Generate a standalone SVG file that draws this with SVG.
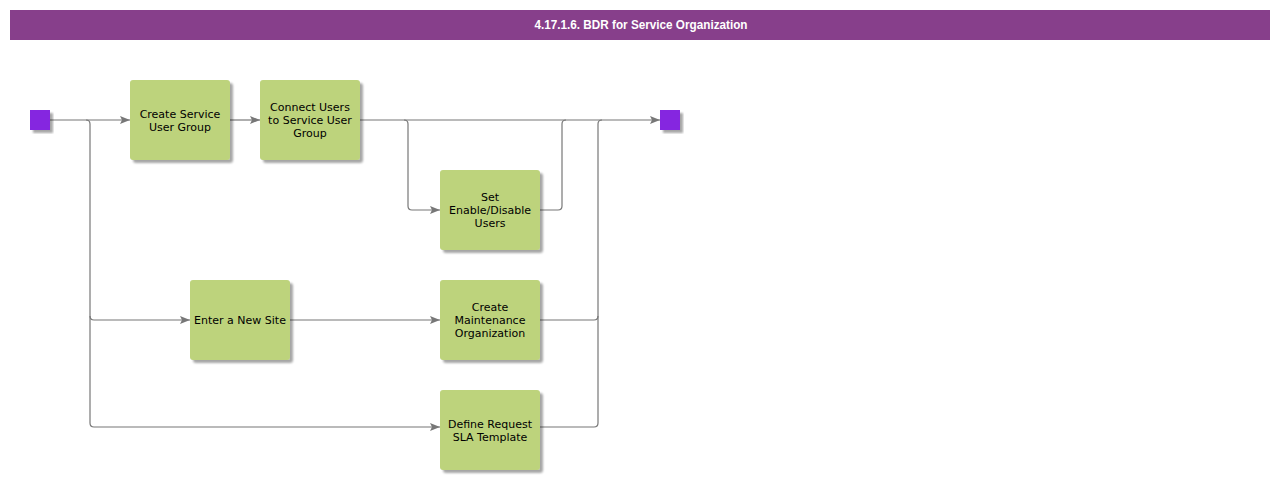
<svg xmlns="http://www.w3.org/2000/svg" width="1280" height="480" viewBox="0 0 1280 480">
<defs>
<marker id="arr" markerWidth="10" markerHeight="8" refX="10" refY="4" orient="auto" markerUnits="userSpaceOnUse">
<path d="M0,0 L10,4 L0,8 L2,4 Z" fill="#777"/>
</marker>
<filter id="sh" x="-20%" y="-20%" width="140%" height="140%">
<feGaussianBlur in="SourceAlpha" stdDeviation="1.2"/>
<feOffset dx="3" dy="3" result="o"/>
<feComponentTransfer><feFuncA type="linear" slope="0.35"/></feComponentTransfer>
<feMerge><feMergeNode/><feMergeNode in="SourceGraphic"/></feMerge>
</filter>
</defs>
<style>
.box{fill:#bdd37c;filter:url(#sh)}
.term{fill:#8526e0;filter:url(#sh)}
.t{font-family:"DejaVu Sans",Verdana,sans-serif;font-size:11px;fill:#000;text-anchor:middle}
.c{fill:none;stroke:#777;stroke-width:1.2}
</style>
<rect x="10" y="10" width="1260" height="30" fill="#873f8b"/>
<text x="641" y="29" font-family="'Liberation Sans',Arial,sans-serif" font-size="12" font-weight="bold" fill="#fff" text-anchor="middle" textLength="213" lengthAdjust="spacingAndGlyphs">4.17.1.6. BDR for Service Organization</text>
<g id="connectors">
<path class="c" d="M50,120 H130" marker-end="url(#arr)"/>
<path class="c" d="M86,120 Q90,120 90,124 V316 Q90,320 94,320 H190" marker-end="url(#arr)"/>
<path class="c" d="M90,316 V423 Q90,427 94,427 H440" marker-end="url(#arr)"/>
<path class="c" d="M230,120 H260" marker-end="url(#arr)"/>
<path class="c" d="M360,120 H660" marker-end="url(#arr)"/>
<path class="c" d="M404,120 Q408,120 408,124 V206 Q408,210 412,210 H440" marker-end="url(#arr)"/>
<path class="c" d="M540,210 H558 Q562,210 562,206 V124 Q562,120 566,120"/>
<path class="c" d="M540,320 H594 Q598,320 598,316 V124 Q598,120 602,120"/>
<path class="c" d="M540,427 H594 Q598,427 598,423 V316"/>
<path class="c" d="M290,320 H440" marker-end="url(#arr)"/>
</g>
<g id="start"><rect class="term" x="30" y="110" width="20" height="20"/></g>
<g id="end"><rect class="term" x="660" y="110" width="20" height="20"/></g>
<g id="n1"><rect class="box" x="130" y="80" width="100" height="80" rx="3"/>
<text class="t" x="180" y="118">Create Service</text><text class="t" x="180" y="131">User Group</text></g>
<g id="n2"><rect class="box" x="260" y="80" width="100" height="80" rx="3"/>
<text class="t" x="310" y="111">Connect Users</text><text class="t" x="310" y="124">to Service User</text><text class="t" x="310" y="137">Group</text></g>
<g id="n3"><rect class="box" x="440" y="170" width="100" height="80" rx="3"/>
<text class="t" x="490" y="201">Set</text><text class="t" x="490" y="214">Enable/Disable</text><text class="t" x="490" y="227">Users</text></g>
<g id="n4"><rect class="box" x="190" y="280" width="100" height="80" rx="3"/>
<text class="t" x="240" y="324">Enter a New Site</text></g>
<g id="n5"><rect class="box" x="440" y="280" width="100" height="80" rx="3"/>
<text class="t" x="490" y="311">Create</text><text class="t" x="490" y="324">Maintenance</text><text class="t" x="490" y="337">Organization</text></g>
<g id="n6"><rect class="box" x="440" y="390" width="100" height="80" rx="3"/>
<text class="t" x="490" y="428">Define Request</text><text class="t" x="490" y="441">SLA Template</text></g>
</svg>
